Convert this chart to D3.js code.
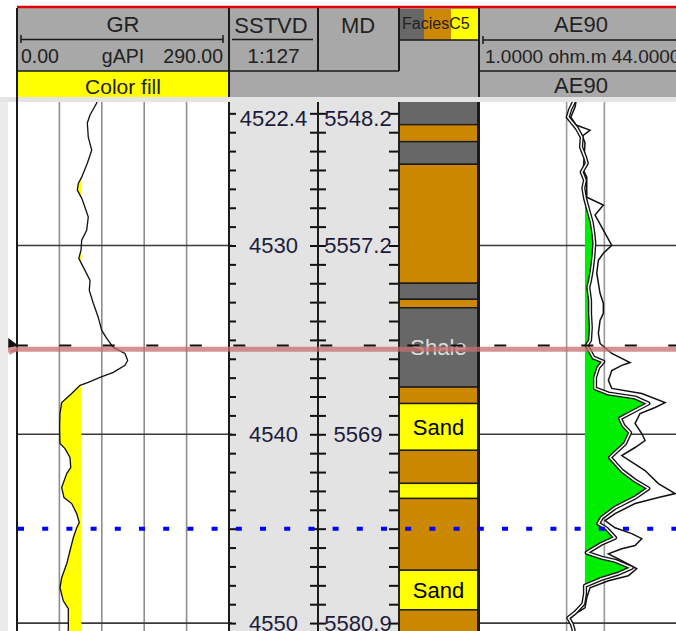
<!DOCTYPE html>
<html>
<head>
<meta charset="utf-8">
<script src="https://cdn.jsdelivr.net/npm/d3@7"></script>
<style>
  body { margin: 0; background: #fff; }
  svg { display: block; font-family: "Liberation Sans", Arial, sans-serif; }
</style>
</head>
<body>
<svg id="chart" width="676" height="631"></svg>
<script>
// ---------------- data ----------------
// Gamma ray, gAPI, sampled against SSTVD (m)
const grCurve = [
  [4522.2, 110.5], [4522.45, 109.0], [4523.09, 99.9], [4523.51, 96.2], [4524.26, 97.5],
  [4524.95, 102.2], [4525.64, 96.2], [4526.38, 88.5], [4526.7, 84.0], [4527.07, 82.5],
  [4527.49, 88.5], [4528.13, 94.4], [4528.50, 97.5], [4529.19, 95.3], [4529.72, 88.5],
  [4530.25, 87.6], [4530.68, 84.5], [4531.32, 93.0], [4531.85, 99.9], [4532.38, 98.9],
  [4533.06, 104.4], [4533.81, 111.2], [4534.50, 115.9], [4534.92, 122.7], [4535.40, 131.7],
  [4535.72, 147.7], [4536.09, 151.4], [4536.35, 147.7], [4536.72, 131.7], [4536.99, 113.5],
  [4537.25, 97.5], [4537.41, 86.2], [4537.84, 74.8], [4538.32, 61.1], [4538.90, 58.8],
  [4539.6, 58.3], [4540.49, 58.8], [4540.76, 65.7], [4541.23, 72.5], [4541.76, 73.5],
  [4542.08, 68.0], [4542.82, 61.1], [4543.35, 64.3], [4543.67, 74.8], [4544.20, 81.7],
  [4544.68, 85.2], [4544.95, 81.7], [4545.48, 77.0], [4546.17, 72.5], [4546.86, 68.0],
  [4547.60, 61.1], [4548.13, 58.8], [4548.82, 63.3], [4549.24, 70.2], [4550.25, 70.2],
  [4550.6, 69.8]
];

// AE90 resistivity, ohm.m (the filled curve)
const ae90Curve = [
  [4522.2, 5.9], [4522.45, 5.66], [4522.82, 5.32], [4523.20, 5.11], [4523.46, 5.49],
  [4523.78, 6.02], [4524.26, 6.60], [4524.79, 6.52], [4525.32, 7.01], [4525.64, 7.24],
  [4526.11, 6.60], [4526.54, 7.01], [4526.96, 6.80], [4527.49, 7.01], [4528.13, 7.45],
  [4528.77, 7.93], [4529.35, 8.17], [4529.88, 8.32], [4530.62, 8.17], [4531.32, 7.93],
  [4531.84, 7.69], [4532.21, 7.45], [4532.90, 7.69], [4533.59, 7.69], [4534.34, 7.80],
  [4535.03, 7.69], [4535.29, 7.24], [4535.93, 8.17], [4536.15, 9.8], [4536.46, 8.96],
  [4536.99, 8.43], [4537.57, 8.43], [4537.84, 10.77], [4538.05, 17.58], [4538.37, 22.45],
  [4538.74, 17.58], [4539.16, 13.35], [4539.53, 14.18], [4539.91, 16.04], [4540.49, 14.63],
  [4541.23, 11.10], [4541.92, 13.77], [4542.45, 17.58], [4542.87, 22.45], [4543.35, 17.58],
  [4543.89, 12.17], [4544.42, 9.53], [4544.73, 8.96], [4545.00, 10.45], [4545.48, 12.17],
  [4545.79, 9.53], [4546.27, 7.24], [4546.54, 9.53], [4546.70, 12.17], [4547.07, 16.54],
  [4547.38, 12.93], [4547.65, 9.53], [4548.02, 7.01], [4548.45, 7.01], [4548.98, 6.80],
  [4549.45, 5.84], [4549.72, 5.16], [4550.04, 5.49], [4550.30, 5.66], [4550.6, 5.7]
];

// second resistivity trace plotted on the same AE90 scale
const aeOuterCurve = [
  [4522.2, 6.0], [4522.67, 5.84], [4523.20, 5.40], [4523.62, 5.95], [4523.89, 7.69],
  [4524.20, 6.7], [4524.58, 7.01], [4525.3, 6.9], [4526.01, 6.80], [4526.38, 7.24],
  [4527.44, 7.24], [4527.86, 9.82], [4528.39, 8.43], [4529.03, 9.53], [4529.99, 11.46],
  [4530.41, 9.82], [4530.78, 8.96], [4531.47, 8.70], [4532.53, 9.24], [4533.06, 9.82],
  [4533.59, 9.82], [4533.97, 9.24], [4534.65, 8.96], [4535.19, 9.24], [4535.72, 11.46],
  [4536.2, 16.04], [4536.35, 13.77], [4536.62, 11.46], [4537.15, 10.77], [4537.57, 11.46],
  [4537.84, 19.89], [4538.32, 30.5], [4538.58, 25.4], [4538.90, 19.27], [4539.43, 17.58],
  [4539.96, 19.89], [4540.33, 21.12], [4540.70, 17.58], [4541.13, 13.77], [4541.92, 21.12],
  [4542.61, 26.98], [4543.14, 36.7], [4543.35, 26.98], [4543.67, 17.58], [4544.20, 12.17],
  [4544.57, 10.13], [4544.95, 12.17], [4545.26, 16.54], [4545.53, 19.89], [4545.89, 17.58],
  [4546.06, 13.77], [4546.33, 10.77], [4546.70, 13.77], [4547.12, 18.14], [4547.49, 15.54],
  [4547.76, 10.77], [4548.13, 7.69], [4548.66, 7.24], [4549.19, 7.01], [4549.51, 5.84],
  [4549.77, 5.32], [4550.25, 5.66], [4550.6, 5.8]
];

// facies intervals: top, base, facies code (0 shale, 1 shaly, 2 sand)
const faciesTop  = [4521.0, 4523.6, 4524.5, 4525.7, 4532.0, 4532.85, 4533.3, 4537.5, 4538.37, 4540.85, 4542.6, 4543.4, 4547.2, 4549.3];
const faciesBase = [4523.6, 4524.5, 4525.7, 4532.0, 4532.85, 4533.3, 4537.5, 4538.37, 4540.85, 4542.6, 4543.4, 4547.2, 4549.3, 4552.0];
const faciesCode = [0, 1, 0, 1, 0, 1, 0, 1, 2, 1, 2, 1, 2, 1];
const faciesLabels = ["Shale", "", "Sand"];

// depth annotation
const tvdLabelDepths = [4522.4, 4530, 4540, 4550];
const tvdLabels = ["4522.4", "4530", "4540", "4550"];
const mdLabels = ["5548.2", "5557.2", "5569", "5580.9"];
const gridDepths = [4530, 4540, 4550];

// cutoffs and markers
const grCutoff = 88;
const ae90Cutoff = 7;
const topMarkerDepth = 4535.3;
const topMarkerBandDepth = 4535.5;
const blueMarkerDepth = 4545.0;

// header texts
const grHeader = { name: "GR", min: "0.00", unit: "gAPI", max: "290.00", fill: "Color fill" };
const aeHeader = { name: "AE90", scale: "1.0000 ohm.m 44.0000" };

// ---------------- layout ----------------
const svg = d3.select("#chart");
const W = 676, H = 631;
const bodyTop = 102, bodyBottom = 631;
const pxPerMetre = 18.88;
const topDepth = 4522.4;

const y = d3.scaleLinear()
  .domain([topDepth, topDepth + (bodyBottom - bodyTop) / pxPerMetre])
  .range([bodyTop, bodyBottom]);

const grTrack = { x0: 17, x1: 229 };
const tvdTrack = { x0: 229, x1: 318 };
const mdTrack = { x0: 318, x1: 399 };
const facTrack = { x0: 399, x1: 478 };
const aeTrack = { x0: 479, x1: 685 };

const xGR = d3.scaleLinear().domain([0, 290]).range([grTrack.x0, grTrack.x1]);
const xAE = d3.scaleLog().domain([1, 44]).range([aeTrack.x0, aeTrack.x1]);

const DARK = "#1a1a1a";
const defs = svg.append("defs");
defs.append("clipPath").attr("id", "clipBody")
  .append("rect").attr("x", 0).attr("y", bodyTop).attr("width", W).attr("height", bodyBottom - bodyTop);
defs.append("clipPath").attr("id", "clipGR")
  .append("rect").attr("x", grTrack.x0).attr("y", bodyTop).attr("width", grTrack.x1 - grTrack.x0).attr("height", bodyBottom - bodyTop);
defs.append("clipPath").attr("id", "clipAE")
  .append("rect").attr("x", aeTrack.x0).attr("y", bodyTop).attr("width", aeTrack.x1 - aeTrack.x0).attr("height", bodyBottom - bodyTop);

svg.append("rect").attr("width", W).attr("height", H).attr("fill", "#fff");

const body = svg.append("g").attr("clip-path", "url(#clipBody)");

// left margin strip
body.append("rect").attr("x", 0).attr("y", bodyTop).attr("width", 8).attr("height", bodyBottom - bodyTop).attr("fill", "#ececec");
// depth columns background
body.append("rect").attr("x", tvdTrack.x0).attr("y", bodyTop)
  .attr("width", mdTrack.x1 - tvdTrack.x0).attr("height", bodyBottom - bodyTop).attr("fill", "#e3e3e3");

// ---- grids ----
const grGrid = body.append("g");
d3.range(0, 291, 58).forEach((v, i, arr) => {
  if (i === 0 || i === arr.length - 1) return;
  grGrid.append("line").attr("x1", xGR(v)).attr("x2", xGR(v)).attr("y1", bodyTop).attr("y2", bodyBottom)
    .attr("stroke", "#8e8e8e").attr("stroke-width", 1.6);
});
[5, 10].forEach(v => {
  grGrid.append("line").attr("x1", xAE(v)).attr("x2", xAE(v)).attr("y1", bodyTop).attr("y2", bodyBottom)
    .attr("stroke", "#9a9a9a").attr("stroke-width", 1.6);
});
gridDepths.forEach(d => {
  [[grTrack.x0, grTrack.x1 + 3], [aeTrack.x0, W]].forEach(([a, b]) => {
    grGrid.append("line").attr("x1", a).attr("x2", b).attr("y1", y(d)).attr("y2", y(d))
      .attr("stroke", "#3a3a3a").attr("stroke-width", 1.6);
  });
});

// insert cutoff crossings so fills end exactly where curves meet the cutoff
function withCrossings(curve, cut) {
  const out = [];
  curve.forEach((p, i) => {
    if (i > 0) {
      const q = curve[i - 1];
      if ((q[1] - cut) * (p[1] - cut) < 0) {
        const t = (cut - q[1]) / (p[1] - q[1]);
        out.push([q[0] + t * (p[0] - q[0]), cut]);
      }
    }
    out.push(p);
  });
  return out;
}

// ---- GR track ----
const grG = body.append("g").attr("clip-path", "url(#clipGR)");
grG.append("path")
  .datum(withCrossings(grCurve, grCutoff))
  .attr("fill", "#ffff00")
  .attr("d", d3.area()
    .y(p => y(p[0]))
    .x0(() => xGR(grCutoff))
    .x1(p => xGR(Math.min(p[1], grCutoff))));
grG.append("path")
  .datum(grCurve)
  .attr("fill", "none").attr("stroke", "#111").attr("stroke-width", 1.3)
  .attr("d", d3.line().y(p => y(p[0])).x(p => xGR(p[1])));

// ---- AE90 track ----
const aeG = body.append("g").attr("clip-path", "url(#clipAE)");
aeG.append("path")
  .datum(withCrossings(ae90Curve, ae90Cutoff))
  .attr("fill", "#00ee00")
  .attr("d", d3.area()
    .y(p => y(p[0]))
    .x0(() => xAE(ae90Cutoff))
    .x1(p => xAE(Math.max(p[1], ae90Cutoff))));
const aeLine = d3.line().y(p => y(p[0])).x(p => xAE(p[1]));
aeG.append("path").datum(aeOuterCurve)
  .attr("fill", "none").attr("stroke", "#111").attr("stroke-width", 1.5).attr("d", aeLine);
aeG.append("path").datum(ae90Curve)
  .attr("fill", "none").attr("stroke", "#111").attr("stroke-width", 4.2).attr("stroke-linejoin", "round").attr("d", aeLine);
aeG.append("path").datum(ae90Curve)
  .attr("fill", "none").attr("stroke", "#fff").attr("stroke-width", 1.5).attr("stroke-linejoin", "round").attr("d", aeLine);

// ---- facies ----
const faciesFill = ["#676767", "#cc8800", "#ffff00"];
const faciesText = ["#dedede", "#000", "#000"];
const facG = body.append("g");
faciesTop.forEach((t, i) => {
  const y0 = y(t), y1 = y(faciesBase[i]);
  facG.append("rect").attr("x", facTrack.x0).attr("y", y0)
    .attr("width", facTrack.x1 - facTrack.x0).attr("height", y1 - y0)
    .attr("fill", faciesFill[faciesCode[i]]).attr("stroke", DARK).attr("stroke-width", 1.4);
});
faciesTop.forEach((t, i) => {
  const label = faciesLabels[faciesCode[i]];
  const y0 = Math.max(y(t), bodyTop), y1 = Math.min(y(faciesBase[i]), bodyBottom);
  if (!label || y1 - y0 < 30) return;
  facG.append("text").attr("x", (facTrack.x0 + facTrack.x1) / 2).attr("y", (y0 + y1) / 2)
    .attr("dy", "0.36em").attr("text-anchor", "middle").attr("font-size", 22)
    .attr("fill", faciesText[faciesCode[i]]).text(label);
});

// ---- depth ticks and labels ----
const tickDepths = d3.range(4523, 4551);
function ticks(x, axisFn, size) {
  const g = body.append("g").attr("transform", `translate(${x},0)`)
    .call(axisFn(y).tickValues(tickDepths).tickSize(size).tickFormat(""));
  g.select(".domain").remove();
  g.selectAll(".tick line").attr("stroke", "#111").attr("stroke-width", 2);
}
ticks(tvdTrack.x0, d3.axisRight, 7);
ticks(tvdTrack.x1, d3.axisLeft, 8);
ticks(mdTrack.x0, d3.axisRight, 8);
ticks(mdTrack.x1, d3.axisLeft, 10);

const labelG = body.append("g").attr("font-size", 22).attr("fill", "#1c1c3a").attr("text-anchor", "middle");
tvdLabelDepths.forEach((d, i) => {
  const yy = Math.max(y(d), bodyTop + 16);
  labelG.append("text").attr("x", (tvdTrack.x0 + tvdTrack.x1) / 2).attr("y", yy).attr("dy", "0.36em").text(tvdLabels[i]);
  labelG.append("text").attr("x", (mdTrack.x0 + mdTrack.x1) / 2 - 0.5).attr("y", yy).attr("dy", "0.36em").text(mdLabels[i]);
});

// ---- column borders ----
const borders = body.append("g").attr("stroke", DARK);
[[grTrack.x0, 2], [grTrack.x1, 2], [tvdTrack.x1, 2], [mdTrack.x1, 1.6], [facTrack.x1 + 0.5, 3]].forEach(([x, w]) => {
  borders.append("line").attr("x1", x).attr("x2", x).attr("y1", bodyTop).attr("y2", bodyBottom).attr("stroke-width", w);
});

// ---- depth markers ----
const yPink = y(topMarkerBandDepth);
const yMark = y(topMarkerDepth);
body.append("line").attr("x1", 8).attr("x2", W).attr("y1", yPink).attr("y2", yPink)
  .attr("stroke", "rgba(200,110,110,0.75)").attr("stroke-width", 5);
body.append("line").attr("x1", 9).attr("x2", 17).attr("y1", yPink + 4).attr("y2", yPink)
  .attr("stroke", "rgba(200,110,110,0.75)").attr("stroke-width", 3);
body.append("line").attr("x1", 8).attr("x2", W).attr("y1", yMark).attr("y2", yMark)
  .attr("stroke", "#111").attr("stroke-width", 2)
  .attr("stroke-dasharray", "12,31.5").attr("stroke-dashoffset", -7.8);
body.append("path")
  .attr("d", `M9,${yMark - 6} L17,${yMark} L9,${yMark + 1} Z`)
  .attr("fill", "#111").attr("stroke", "#111").attr("stroke-width", 1.5);
const yBlue = y(blueMarkerDepth);
body.append("line").attr("x1", 8).attr("x2", W).attr("y1", yBlue).attr("y2", yBlue)
  .attr("stroke", "#0000ff").attr("stroke-width", 4)
  .attr("stroke-dasharray", "6,18.2").attr("stroke-dashoffset", -10);

// ---------------- header ----------------
const head = svg.append("g");
head.append("rect").attr("x", 17).attr("y", 8).attr("width", W - 17).attr("height", 89).attr("fill", "#a8a8a8");
head.append("rect").attr("x", 0).attr("y", 97).attr("width", W).attr("height", 5).attr("fill", "#e4e4e4");
head.append("rect").attr("x", grTrack.x0).attr("y", 71).attr("width", grTrack.x1 - grTrack.x0).attr("height", 26).attr("fill", "#ffff00");
// facies colour key
const keyX = [facTrack.x0, 424, 451, aeTrack.x0];
faciesFill.forEach((c, i) => {
  head.append("rect").attr("x", keyX[i]).attr("y", 9).attr("width", keyX[i + 1] - keyX[i]).attr("height", 31).attr("fill", c);
});
head.append("line").attr("x1", 17).attr("x2", W).attr("y1", 7).attr("y2", 7).attr("stroke", "#e00000").attr("stroke-width", 2.4);

const hl = (x1, y1, x2, y2, w = 1.5) => head.append("line")
  .attr("x1", x1).attr("y1", y1).attr("x2", x2).attr("y2", y2).attr("stroke", DARK).attr("stroke-width", w);
hl(17, 8, 17, 102, 2);
hl(grTrack.x1, 8, grTrack.x1, 97, 2);
hl(tvdTrack.x1, 8, tvdTrack.x1, 71, 2);
hl(mdTrack.x1, 8, mdTrack.x1, 71, 2);
hl(aeTrack.x0, 8, aeTrack.x0, 97, 2);
hl(17, 71, mdTrack.x1, 71);
hl(aeTrack.x0, 71, W, 71);
hl(facTrack.x0, 40, aeTrack.x0, 40);
// scale bars
hl(21, 39.5, 223, 39.5); hl(21, 35, 21, 43); hl(223, 35, 223, 43);
hl(232, 39.5, 313, 39.5);
hl(483, 40, W, 40); hl(483, 36, 483, 44);

const ht = (txt, x, yy, size, anchor = "middle") => head.append("text")
  .attr("x", x).attr("y", yy).attr("font-size", size).attr("text-anchor", anchor).attr("fill", "#222").text(txt);
const grMid = (grTrack.x0 + grTrack.x1) / 2;
ht(grHeader.name, grMid, 32, 22);
ht(grHeader.min, 21, 63, 19.5, "start");
ht(grHeader.unit, grMid, 63, 19.5);
ht(grHeader.max, 223, 63, 19.5, "end");
ht(grHeader.fill, grMid, 94, 21);
ht("SSTVD", 271, 33, 22);
ht("1:127", 273.5, 63, 21);
ht("MD", 358, 33, 22);
ht("FaciesC5", 402, 29, 16, "start");
const aeMid = (aeTrack.x0 + aeTrack.x1) / 2 - 1;
ht(aeHeader.name, aeMid, 32, 22);
ht(aeHeader.scale, 485, 63, 19, "start");
ht(aeHeader.name, aeMid, 93, 22);
</script>
</body>
</html>
